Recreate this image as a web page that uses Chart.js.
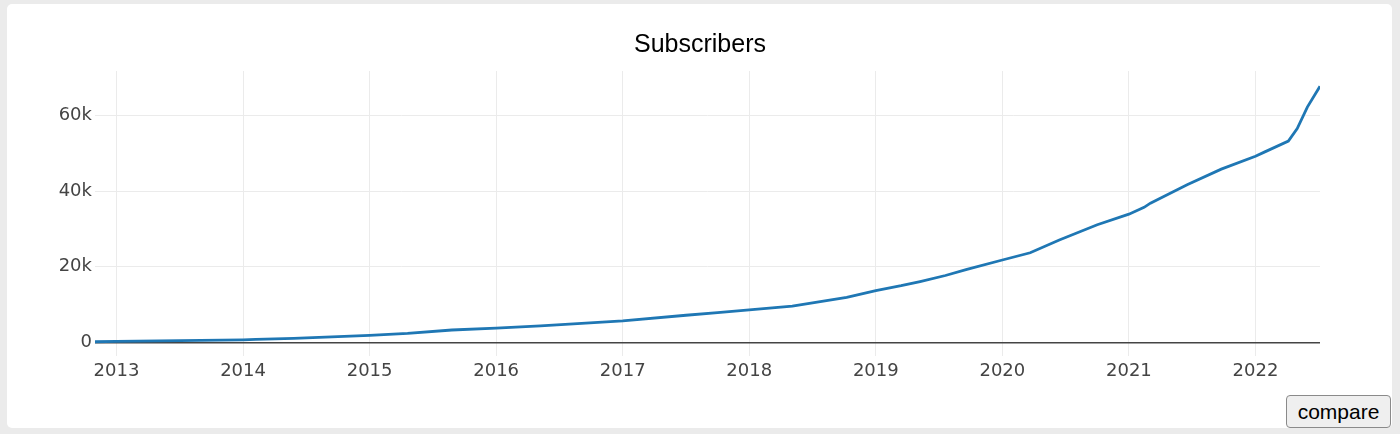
<!DOCTYPE html>
<html lang="en">
<head>
  <meta charset="UTF-8">
  <title>Subscribers</title>
  <script src="https://cdn.jsdelivr.net/npm/chart.js"></script>
  <style>
    html, body { margin: 0; padding: 0; background: #ebebeb; }
    body { width: 1400px; height: 434px; position: relative; overflow: hidden; }
    .card { position: absolute; left: 7px; top: 4px; width: 1385px; height: 424px; background: #fff; border-radius: 5px; }
    #chart { position: absolute; left: 0; top: 0; }
    .compare {
      position: absolute; left: 1286px; top: 395px; width: 105px; height: 33px;
      font: 21px "Liberation Sans", Arial, sans-serif; color: #000;
      background: #efefef; border: 1px solid #8a8a8a; border-radius: 4px; padding: 0;
    }
  </style>
</head>
<body>
  <div class="card"></div>
  <canvas id="chart" width="1400" height="434"></canvas>
  <button class="compare">compare</button>

  <script>
    // subscriber count over time (decimal years)
    const years = [
      2012.83, 2013.0, 2013.5, 2014.0, 2014.1, 2014.4, 2015.0, 2015.3, 2015.65,
      2016.0, 2016.35, 2017.0, 2017.5, 2017.75, 2018.0, 2018.34, 2018.77, 2019.0,
      2019.2, 2019.35, 2019.55, 2019.72, 2020.0, 2020.22, 2020.45, 2020.75, 2021.0,
      2021.12, 2021.17, 2021.46, 2021.73, 2022.0, 2022.07, 2022.26, 2022.33,
      2022.41, 2022.51
    ];
    const subscribers = [
      200, 300, 500, 700, 800, 1100, 1900, 2400, 3300,
      3800, 4400, 5700, 7200, 7900, 8600, 9600, 11900, 13700,
      15000, 16100, 17700, 19300, 21800, 23700, 27100, 31100, 33900,
      35700, 36800, 41700, 45800, 49200, 50300, 53200, 56500,
      62200, 67700
    ];
    const xTicks = [2013, 2014, 2015, 2016, 2017, 2018, 2019, 2020, 2021, 2022];
    const yTicks = [0, 20000, 40000, 60000];

    const tickFont = { family: '"DejaVu Sans", Verdana, sans-serif', size: 18 };

    new Chart(document.getElementById('chart'), {
      type: 'line',
      data: {
        datasets: [{
          label: 'Subscribers',
          data: years.map((x, i) => ({ x, y: subscribers[i] })),
          borderColor: '#1f77b4',
          borderWidth: 2.8,
          pointRadius: 0,
          tension: 0,
          fill: false
        }]
      },
      options: {
        responsive: false,
        animation: false,
        layout: { padding: 0 },
        plugins: {
          legend: { display: false },
          tooltip: { enabled: false },
          title: {
            display: true,
            text: 'Subscribers',
            color: '#000',
            font: { family: '"Liberation Sans", Arial, sans-serif', size: 25, weight: 'normal', lineHeight: 1.2 },
            padding: { top: 30, bottom: 11 }
          }
        },
        scales: {
          x: {
            type: 'linear',
            min: years[0],
            max: years[years.length - 1],
            afterBuildTicks: s => { s.ticks = xTicks.map(v => ({ value: v })); },
            afterFit: s => { s.height = 78; },
            ticks: {
              autoSkip: false, maxRotation: 0, padding: 5,
              color: '#444', font: tickFont,
              callback: v => String(v)
            },
            grid: { color: '#ebebeb', lineWidth: 1, drawTicks: false },
            border: { display: false }
          },
          y: {
            min: -3570,
            max: 71730,
            afterBuildTicks: s => { s.ticks = yTicks.map(v => ({ value: v })); },
            afterFit: s => { s.width = 95; },
            ticks: {
              padding: 3, color: '#444', font: tickFont,
              callback: v => v === 0 ? '0' : (v / 1000) + 'k'
            },
            grid: {
              drawTicks: false,
              color: c => c.tick && c.tick.value === 0 ? '#444' : '#ebebeb',
              lineWidth: c => c.tick && c.tick.value === 0 ? 1.5 : 1
            },
            border: { display: false }
          },
          // keeps the right margin so the title stays centred on the page
          pad: {
            type: 'linear',
            position: 'right',
            afterFit: s => { s.width = 80; },
            ticks: { display: false },
            grid: { display: false },
            border: { display: false }
          }
        }
      }
    });
  </script>
</body>
</html>
